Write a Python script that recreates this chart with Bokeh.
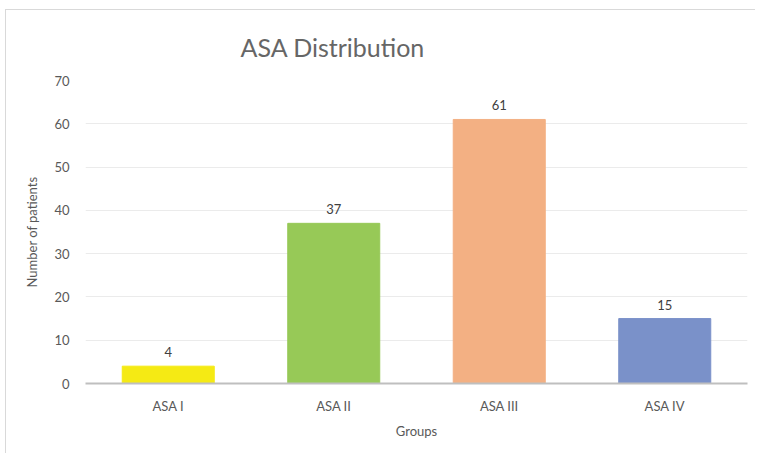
from bokeh.plotting import figure
from bokeh.models import ColumnDataSource, FixedTicker, LabelSet, Title
from bokeh.core.properties import value
from bokeh.embed import file_html
from bokeh.resources import INLINE

groups = ["ASA I", "ASA II", "ASA III", "ASA IV"]
patients = [4, 37, 61, 15]
colors = ["#F5EA14", "#97C957", "#F3B083", "#7A91C9"]
y_ticks = [0, 10, 20, 30, 40, 50, 60, 70]

FONT = "Lato"
TXT = "#595959"

src = ColumnDataSource(dict(g=groups, v=patients, c=colors, t=[str(v) for v in patients]))

p = figure(x_range=groups, y_range=(0, 70), width=750, height=444,
           output_backend="svg", toolbar_location=None,
           min_border_left=79, min_border_right=9, min_border_top=70, min_border_bottom=71)
p.styles = {"margin-left": "5px", "margin-top": "9px",
            "border-top": "1px solid #D9D9D9", "border-left": "1px solid #D9D9D9"}
p.outline_line_color = None
p.x_range.range_padding = 0

p.vbar(x="g", top="v", width=0.556, color="c", source=src)

labels = LabelSet(x="g", y="v", text="t", source=src, text_align="center",
                  text_baseline="bottom", y_offset=9, text_font=value(FONT),
                  text_font_size="13px", text_color="#404040")
p.add_layout(labels)

t = Title(text="ASA Distribution", align="left", offset=155, standoff=37,
          text_font=FONT, text_font_size="25px", text_font_style="normal",
          text_color="#666666")
p.add_layout(t, "above")

p.yaxis.ticker = FixedTicker(ticks=y_ticks)
p.yaxis.axis_line_color = None
p.yaxis.major_tick_line_color = None
p.yaxis.minor_tick_line_color = None
p.yaxis.major_label_standoff = 10
p.yaxis.major_label_text_font = FONT
p.yaxis.major_label_text_font_size = "13px"
p.yaxis.major_label_text_color = TXT
p.yaxis.axis_label = "Number of patients"
p.yaxis.axis_label_text_font = FONT
p.yaxis.axis_label_text_font_size = "13px"
p.yaxis.axis_label_text_font_style = "normal"
p.yaxis.axis_label_text_color = TXT
p.yaxis.axis_label_standoff = 11

p.xaxis.axis_line_color = "#BFBFBF"
p.xaxis.axis_line_width = 2
p.xaxis.major_tick_line_color = None
p.xaxis.minor_tick_line_color = None
p.xaxis.major_label_standoff = 8
p.xaxis.major_label_text_font = FONT
p.xaxis.major_label_text_font_size = "13px"
p.xaxis.major_label_text_color = TXT
p.xaxis.axis_label = "Groups"
p.xaxis.axis_label_text_font = FONT
p.xaxis.axis_label_text_font_size = "13px"
p.xaxis.axis_label_text_font_style = "normal"
p.xaxis.axis_label_text_color = TXT
p.xaxis.axis_label_standoff = 6

p.xgrid.grid_line_color = None
p.ygrid.grid_line_color = "#EBEBEB"
p.ygrid.grid_line_width = 1

open("out.html", "w").write(file_html(p, INLINE))
